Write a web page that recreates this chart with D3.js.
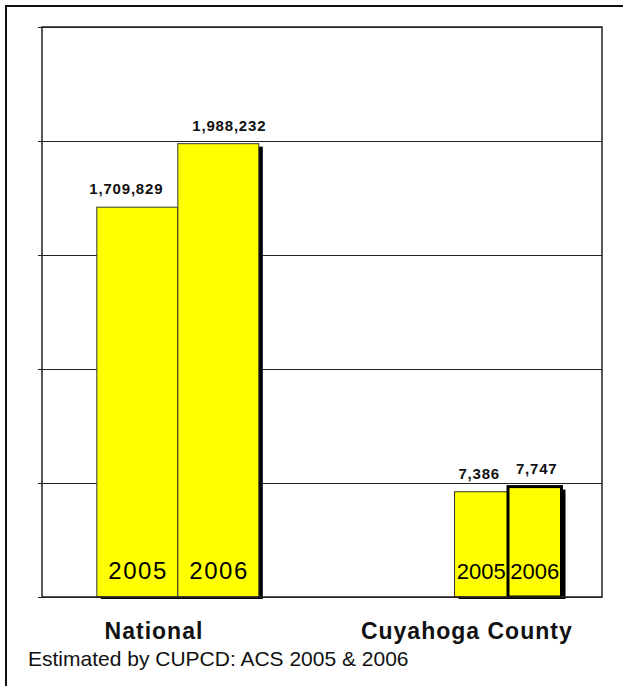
<!DOCTYPE html>
<html>
<head>
<meta charset="utf-8">
<script src="https://cdn.jsdelivr.net/npm/d3@7"></script>
<style>
  body { margin: 0; background: #fff; }
</style>
</head>
<body>
<script>
// ACS counts, national vs county (each group on its own scale)
const categories = ["National", "Cuyahoga County"];
const years = ["2005", "2006"];
const nationalValues = [1709829, 1988232];
const countyValues = [7386, 7747];
const nationalDomain = [0, 2500000];
const countyDomain = [0, 40000];
const gridTicks = [0, 500000, 1000000, 1500000, 2000000, 2500000];
const footnote = "Estimated by CUPCD: ACS 2005 & 2006";

const width = 623;
const height = 686;
const marginTop = 27;
const marginRight = 21;
const marginBottom = 89;
const marginLeft = 42;
const plotW = width - marginLeft - marginRight;
const bottom = height - marginBottom;
const font = "'Liberation Sans', Arial, sans-serif";
const barColor = "#ffff00";

const yNational = d3.scaleLinear(nationalDomain, [bottom, marginTop]);
const yCounty = d3.scaleLinear(countyDomain, [bottom, marginTop]);

// group centres for the bars and for the category captions
const x = d3.scalePoint(categories, [marginLeft, width - marginRight]).padding(0.348).align(0.591);
const xLabel = d3.scalePoint(categories, [marginLeft, width - marginRight]).padding(0.395).align(0.453);

const groups = [
  { name: categories[0], values: nationalValues, y: yNational, half: 81, yearSize: 24, yearSpacing: 1.5, spread: 11 },
  { name: categories[1], values: countyValues, y: yCounty, half: 53.5, yearSize: 22, yearSpacing: 0, spread: 2 },
];

const bars = groups.flatMap((g) => {
  const inner = d3.scaleBand(years, [-g.half, g.half]);
  return years.map((yr, i) => ({
    group: g,
    year: yr,
    value: g.values[i],
    i,
    x: x(g.name) + inner(yr),
    w: inner.bandwidth(),
    top: g.y(g.values[i]),
  }));
});

const svg = d3
  .select("body")
  .append("svg")
  .attr("width", width)
  .attr("height", height)
  .attr("viewBox", [0, 0, width, height])
  .style("font-family", font);

// outer frame runs off the right and bottom edges
svg
  .append("rect")
  .attr("x", 6)
  .attr("y", 6)
  .attr("width", width + 20)
  .attr("height", height + 20)
  .attr("fill", "none")
  .attr("stroke", "#111")
  .attr("stroke-width", 2);

// gridlines with short outward ticks
svg
  .append("g")
  .attr("transform", `translate(${marginLeft},0)`)
  .call(d3.axisLeft(yNational).tickValues(gridTicks).tickSize(0).tickFormat(""))
  .call((g) => g.select(".domain").remove())
  .call((g) =>
    g
      .selectAll(".tick line")
      .attr("x1", -4)
      .attr("x2", plotW)
      .attr("stroke", "#222")
      .attr("stroke-width", 1.2)
  );

// drop shadows first so neighbouring bars cover them
svg
  .append("g")
  .selectAll("rect")
  .data(bars)
  .join("rect")
  .attr("x", (d) => d.x + 4)
  .attr("y", (d) => d.top + 3)
  .attr("width", (d) => d.w)
  .attr("height", (d) => bottom - d.top - 1)
  .attr("fill", "#000");

svg
  .append("g")
  .selectAll("rect")
  .data(bars)
  .join("rect")
  .attr("x", (d) => d.x)
  .attr("y", (d) => d.top)
  .attr("width", (d) => d.w)
  .attr("height", (d) => bottom - d.top)
  .attr("fill", barColor)
  .attr("stroke", (d) => (d.group.name === categories[1] && d.i === 1 ? "#000" : "#333"))
  .attr("stroke-width", (d) => (d.group.name === categories[1] && d.i === 1 ? 3 : 1));

// plot border
svg
  .append("rect")
  .attr("x", marginLeft)
  .attr("y", marginTop)
  .attr("width", plotW)
  .attr("height", bottom - marginTop)
  .attr("fill", "none")
  .attr("stroke", "#222")
  .attr("stroke-width", 1.5);

// year inside each bar
svg
  .append("g")
  .attr("text-anchor", "middle")
  .attr("fill", "#000")
  .selectAll("text")
  .data(bars)
  .join("text")
  .attr("x", (d) => d.x + d.w / 2 + d.group.yearSpacing / 2)
  .attr("y", bottom - 18)
  .attr("font-size", (d) => d.group.yearSize)
  .attr("letter-spacing", (d) => d.group.yearSpacing)
  .text((d) => d.year);

// value labels
svg
  .append("g")
  .attr("text-anchor", "middle")
  .attr("font-weight", "bold")
  .attr("font-size", 15)
  .attr("letter-spacing", 0.8)
  .attr("fill", "#111")
  .selectAll("text")
  .data(bars)
  .join("text")
  .attr("x", (d) => d.x + d.w / 2 + (d.i === 0 ? -d.group.spread : d.group.spread))
  .attr("y", (d) => d.top - 13)
  .text((d) => d3.format(",")(d.value));

// category captions
svg
  .append("g")
  .attr("text-anchor", "middle")
  .attr("font-weight", "bold")
  .attr("font-size", 23)
  .attr("letter-spacing", 1)
  .attr("fill", "#111")
  .selectAll("text")
  .data(categories)
  .join("text")
  .attr("x", (d) => xLabel(d))
  .attr("y", 639)
  .text((d) => d);

svg
  .append("text")
  .attr("x", 28)
  .attr("y", 666)
  .attr("font-size", 21)
  .attr("fill", "#111")
  .text(footnote);
</script>
</body>
</html>
